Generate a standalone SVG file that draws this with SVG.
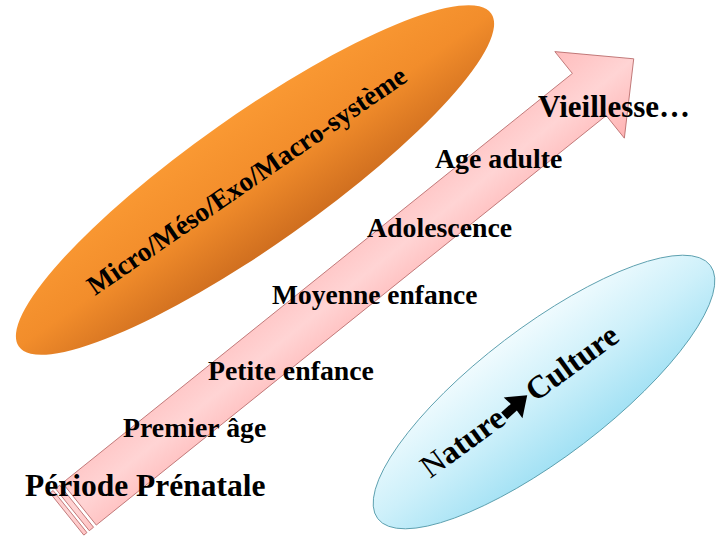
<svg xmlns="http://www.w3.org/2000/svg" width="720" height="540" viewBox="0 0 720 540">
  <defs>
    <linearGradient id="gOrange" gradientUnits="userSpaceOnUse" x1="0" y1="-66" x2="0" y2="66">
      <stop offset="0" stop-color="#FA9933"/>
      <stop offset="0.5" stop-color="#F28D2B"/>
      <stop offset="1" stop-color="#CF6E1F"/>
    </linearGradient>
    <linearGradient id="gBlue" gradientUnits="userSpaceOnUse" x1="0" y1="-65" x2="0" y2="65">
      <stop offset="0" stop-color="#F0FBFE"/>
      <stop offset="0.5" stop-color="#CDF0FA"/>
      <stop offset="1" stop-color="#A2E1F4"/>
    </linearGradient>
    <linearGradient id="gPink" gradientUnits="userSpaceOnUse" x1="0" y1="-28" x2="0" y2="82">
      <stop offset="0" stop-color="#FFBDBD"/>
      <stop offset="0.5" stop-color="#FFD4D4"/>
      <stop offset="1" stop-color="#FFB4B4"/>
    </linearGradient>
    <style>
      .lbl { font-family: "Liberation Serif", "Times New Roman", serif; font-weight: bold; fill: #000; }
      .arrowShape { fill: url(#gPink); stroke: #B86A6A; stroke-width: 0.8; stroke-linejoin: miter; }
    </style>
  </defs>

  <g id="systemes">
    <ellipse transform="translate(255,180) rotate(-35.2)" cx="0" cy="0" rx="289" ry="65" fill="url(#gOrange)"/>
    <text class="lbl" font-family="Liberation Serif, serif" font-size="27.5" transform="translate(95,296) rotate(-34.5)" x="0" y="0">Micro/Méso/Exo/Macro-système</text>
  </g>

  <g id="connectors">
    <g id="timeline-arrow" transform="translate(50,493) rotate(-38.77)">
      <rect class="arrowShape" x="0" y="0" width="4" height="54"/>
      <rect class="arrowShape" x="7" y="0" width="5.5" height="54"/>
      <polygon class="arrowShape" points="16,0 670,0 670,-28 727,27 670,83 670,54 16,54"/>
    </g>
  </g>

  <g id="nature-culture">
    <ellipse transform="translate(544,392) rotate(-37.3)" cx="0" cy="0" rx="209" ry="65" fill="url(#gBlue)" stroke="#5B9FAE" stroke-width="0.9"/>
    <g transform="translate(430,479) rotate(-36)">
      <text class="lbl" font-family="Liberation Serif, serif" font-size="32" x="0" y="0"><tspan font-weight="normal">N</tspan>ature</text>
      <polygon points="97,-13.5 110,-13.5 109,-23 128,-9 109,5 110,-4.5 97,-4.5" fill="#000" transform="rotate(-6 112 -9)"/>
      <text class="lbl" font-family="Liberation Serif, serif" font-size="32" x="130" y="0">Culture</text>
    </g>
  </g>

  <g id="stage-vieillesse"><text class="lbl" font-family="Liberation Serif, serif" x="538" y="117" font-size="31">Vieillesse…</text></g>
  <g id="stage-age-adulte"><text class="lbl" font-family="Liberation Serif, serif" x="435" y="168" font-size="27.8">Age adulte</text></g>
  <g id="stage-adolescence"><text class="lbl" font-family="Liberation Serif, serif" x="367" y="237" font-size="27.8">Adolescence</text></g>
  <g id="stage-moyenne-enfance"><text class="lbl" font-family="Liberation Serif, serif" x="272" y="304" font-size="27.5">Moyenne enfance</text></g>
  <g id="stage-petite-enfance"><text class="lbl" font-family="Liberation Serif, serif" x="208" y="380" font-size="27.8">Petite enfance</text></g>
  <g id="stage-premier-age"><text class="lbl" font-family="Liberation Serif, serif" x="123" y="437" font-size="27.8">Premier âge</text></g>
  <g id="stage-prenatale"><text class="lbl" font-family="Liberation Serif, serif" x="25" y="496" font-size="31.5">Période Prénatale</text></g>
</svg>
